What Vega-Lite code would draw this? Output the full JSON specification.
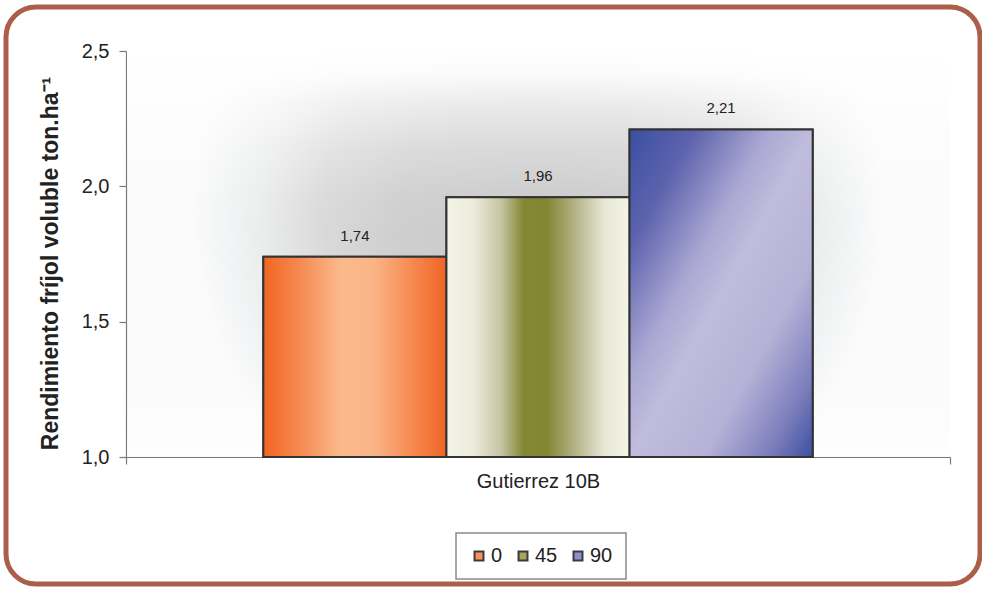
{
  "$schema": "https://vega.github.io/schema/vega-lite/v6.json",
  "width": 824,
  "height": 406,
  "autosize": "none",
  "padding": {"left": 126, "top": 51, "right": 32, "bottom": 132},
  "background": "white",
  "config": {
    "font": "Liberation Sans",
    "locale": {"number": {"decimal": ",", "thousands": ".", "grouping": [3], "currency": ["", ""]}},
    "view": {
      "stroke": null,
      "fill": {
        "gradient": "radial",
        "x1": 0.5, "y1": 0.45, "r1": 0,
        "x2": 0.5, "y2": 0.45, "r2": 0.42,
        "stops": [
          {"offset": 0, "color": "#c9c9c9"},
          {"offset": 0.4, "color": "#cecece"},
          {"offset": 0.62, "color": "#d9d9d9"},
          {"offset": 0.8, "color": "#ebecec"},
          {"offset": 0.92, "color": "#f4f5f6"},
          {"offset": 1, "color": "#fbfbfb"}
        ]
      }
    },
    "axis": {
      "zindex": 1,
      "labelColor": "#222222",
      "labelFontSize": 20,
      "domainColor": "#7a7a7a",
      "domainWidth": 1.2,
      "tickColor": "#7a7a7a",
      "tickWidth": 1.2,
      "tickSize": 7,
      "grid": false
    },
    "legend": {
      "orient": "none",
      "legendX": 330,
      "legendY": 482,
      "direction": "horizontal",
      "strokeColor": "#8a8a8a",
      "strokeWidth": 1.5,
      "fillColor": "white",
      "padding": 13,
      "symbolType": "square",
      "symbolSize": 80,
      "symbolStrokeColor": "#3a3a3a",
      "symbolStrokeWidth": 2,
      "symbolOpacity": 1,
      "labelFontSize": 20,
      "labelColor": "#222222",
      "labelOffset": 2,
      "columnPadding": 10
    }
  },
  "data": {
    "values": [
      {"variedad": "Gutierrez 10B", "dosis": "0", "rendimiento": 1.74},
      {"variedad": "Gutierrez 10B", "dosis": "45", "rendimiento": 1.96},
      {"variedad": "Gutierrez 10B", "dosis": "90", "rendimiento": 2.21}
    ]
  },
  "layer": [
    {
      "data": {"values": [{}]},
      "mark": {
        "type": "rect",
        "fill": {
          "gradient": "linear", "x1": 0, "y1": 0, "x2": 0, "y2": 1,
          "stops": [
            {"offset": 0, "color": "rgba(255,255,255,1)"},
            {"offset": 0.06, "color": "rgba(255,255,255,0.9)"},
            {"offset": 0.13, "color": "rgba(255,255,255,0.6)"},
            {"offset": 0.24, "color": "rgba(255,255,255,0.28)"},
            {"offset": 0.36, "color": "rgba(255,255,255,0.06)"},
            {"offset": 0.45, "color": "rgba(255,255,255,0)"},
            {"offset": 0.8, "color": "rgba(255,255,255,0)"},
            {"offset": 0.93, "color": "rgba(255,255,255,0.35)"},
            {"offset": 1, "color": "rgba(255,255,255,0.75)"}
          ]
        }
      },
      "encoding": {
        "x": {"value": 1},
        "x2": {"value": {"expr": "width"}},
        "y": {"value": 0},
        "y2": {"value": {"expr": "height - 1"}}
      }
    },
    {
      "data": {"values": [{}]},
      "mark": {"type": "rect", "fillOpacity": 0, "stroke": "#ab5f4b", "strokeWidth": 5, "cornerRadius": 30},
      "encoding": {
        "x": {"value": -120},
        "x2": {"value": 854},
        "y": {"value": -44},
        "y2": {"value": 533}
      }
    },
    {
      "mark": {"type": "bar", "stroke": "#333333", "strokeWidth": 2},
      "encoding": {
        "x": {
          "field": "variedad", "type": "nominal",
          "scale": {"paddingInner": 0, "paddingOuter": 0},
          "axis": {"title": null, "labelAngle": 0, "tickBand": "extent", "labelPadding": 7}
        },
        "xOffset": {
          "field": "dosis", "type": "nominal",
          "scale": {"domain": ["0", "45", "90"], "paddingInner": 0, "paddingOuter": 0.75}
        },
        "y": {
          "field": "rendimiento", "type": "quantitative",
          "scale": {"domain": [1, 2.5], "zero": false, "nice": false},
          "axis": {
            "values": [1, 1.5, 2, 2.5],
            "format": ".1f",
            "labelPadding": 10,
            "title": "Rendimiento fríjol voluble ton.ha⁻¹",
            "titleFontSize": 23,
            "titleFontWeight": "bold",
            "titleColor": "#222222",
            "titlePadding": 19,
            "titleY": 212
          }
        },
        "y2": {"datum": 1},
        "color": {
          "field": "dosis", "type": "nominal",
          "scale": {"domain": ["0", "45", "90"], "range": ["#f7935a", "#a7a55c", "#8f90c9"]},
          "legend": {"title": null}
        }
      }
    },
    {
      "transform": [{"filter": "datum.dosis === '0'"}],
      "mark": {
        "type": "bar", "stroke": "#333333", "strokeWidth": 2,
        "fill": {
          "gradient": "linear", "x1": 0, "y1": 0, "x2": 1, "y2": 0,
          "stops": [
            {"offset": 0, "color": "#f26522"},
            {"offset": 0.2, "color": "#f58a52"},
            {"offset": 0.42, "color": "#fbb98b"},
            {"offset": 0.6, "color": "#fab587"},
            {"offset": 0.82, "color": "#f5884f"},
            {"offset": 1, "color": "#f06424"}
          ]
        }
      },
      "encoding": {
        "x": {"field": "variedad", "type": "nominal"},
        "xOffset": {"field": "dosis", "type": "nominal"},
        "y": {"field": "rendimiento", "type": "quantitative"},
        "y2": {"datum": 1}
      }
    },
    {
      "transform": [{"filter": "datum.dosis === '45'"}],
      "mark": {
        "type": "bar", "stroke": "#333333", "strokeWidth": 2,
        "fill": {
          "gradient": "linear", "x1": 0, "y1": 0, "x2": 1, "y2": 0,
          "stops": [
            {"offset": 0, "color": "#f4f4e8"},
            {"offset": 0.15, "color": "#ecebdb"},
            {"offset": 0.3, "color": "#c5c4a2"},
            {"offset": 0.42, "color": "#848834"},
            {"offset": 0.55, "color": "#828632"},
            {"offset": 0.7, "color": "#b3b285"},
            {"offset": 0.86, "color": "#e6e6d4"},
            {"offset": 1, "color": "#f4f4e8"}
          ]
        }
      },
      "encoding": {
        "x": {"field": "variedad", "type": "nominal"},
        "xOffset": {"field": "dosis", "type": "nominal"},
        "y": {"field": "rendimiento", "type": "quantitative"},
        "y2": {"datum": 1}
      }
    },
    {
      "transform": [{"filter": "datum.dosis === '90'"}],
      "mark": {
        "type": "bar", "stroke": "#333333", "strokeWidth": 2,
        "fill": {
          "gradient": "linear", "x1": 0, "y1": 0, "x2": 1, "y2": 1,
          "stops": [
            {"offset": 0, "color": "#3a4fa2"},
            {"offset": 0.18, "color": "#5d63ad"},
            {"offset": 0.38, "color": "#aaa7d3"},
            {"offset": 0.5, "color": "#c0bcdc"},
            {"offset": 0.7, "color": "#b6b2d7"},
            {"offset": 0.87, "color": "#7e80bd"},
            {"offset": 1, "color": "#3c4f9f"}
          ]
        }
      },
      "encoding": {
        "x": {"field": "variedad", "type": "nominal"},
        "xOffset": {"field": "dosis", "type": "nominal"},
        "y": {"field": "rendimiento", "type": "quantitative"},
        "y2": {"datum": 1}
      }
    },
    {
      "mark": {"type": "text", "baseline": "bottom", "dy": -13, "fontSize": 15, "color": "#222222"},
      "encoding": {
        "x": {"field": "variedad", "type": "nominal"},
        "xOffset": {"field": "dosis", "type": "nominal"},
        "y": {"field": "rendimiento", "type": "quantitative"},
        "text": {"field": "rendimiento", "type": "quantitative", "format": ".2f"}
      }
    }
  ]
}
